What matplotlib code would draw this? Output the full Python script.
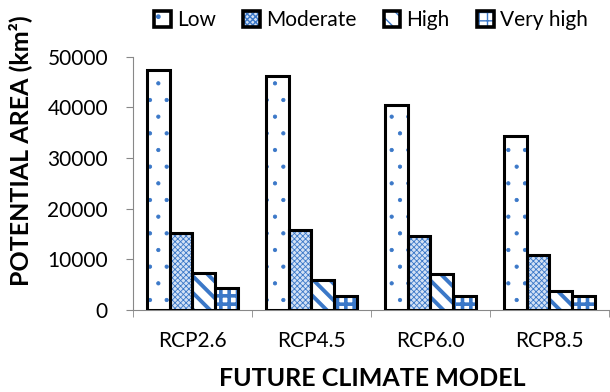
import numpy as np
import matplotlib
matplotlib.use('Agg')
import matplotlib.pyplot as plt
from matplotlib.patches import Patch
from matplotlib.legend_handler import HandlerTuple

## values (km2)
models = ['RCP2.6', 'RCP4.5', 'RCP6.0', 'RCP8.5']
low = [47500, 46200, 40500, 34400]
moderate = [15200, 15800, 14600, 10800]
high = [7400, 6000, 7200, 3700]
very_high = [4300, 2800, 2700, 2700]

plt.rcParams['font.family'] = ['Lato', 'DejaVu Sans']

fig = plt.figure(figsize=(6.1, 3.92), dpi=100)
ax = fig.add_axes([0.218, 0.209, 0.78, 0.646])

x = np.arange(len(models))
w = 0.19
blue = '#3b78c8'
# (values, label, face, hatch, hatch linewidth)
series = [(low, 'Low', 'white', '.', 0.6),
          (moderate, 'Moderate', '#d3e1f5', 'xxxxxx', 0.6),
          (high, 'High', 'white', '\\\\', 2.8),
          (very_high, 'Very high', 'white', '++', 2.6)]

handles = []
labels = []
for i, (vals, name, fc, hat, hlw) in enumerate(series):
    xs = x + (i - 1.5) * w
    with plt.rc_context({'hatch.linewidth': hlw}):
        ax.bar(xs, vals, w, facecolor=fc, edgecolor=blue, linewidth=0,
               hatch=hat, zorder=3)
        fill = Patch(facecolor=fc, edgecolor=blue, linewidth=0, hatch=hat)
    ax.bar(xs, vals, w, facecolor='none', edgecolor='black', linewidth=2.2,
           zorder=4)
    edge = Patch(facecolor='none', edgecolor='black', linewidth=2.6)
    handles.append((fill, edge))
    labels.append(name)

ax.set_xlim(-0.5, 3.5)
ax.set_ylim(0, 50000)
ax.set_yticks(range(0, 50001, 10000))
ax.set_xticks(x)
ax.set_xticklabels(models)
ax.set_xticks(np.arange(-0.5, 4, 1), minor=True)
ax.tick_params(axis='x', which='major', length=0, pad=15, labelsize=15)
ax.tick_params(axis='x', which='minor', length=5, color='#888888')
ax.tick_params(axis='y', length=5, color='#888888', labelsize=15, pad=13)

for s in ['top', 'right']:
    ax.spines[s].set_visible(False)
ax.spines['left'].set_color('#888888')
ax.spines['bottom'].set_color('#888888')

fig.text(20 / 610, 1 - 151 / 392, 'POTENTIAL AREA (km²)', rotation=90,
         ha='center', va='center', fontsize=18, fontweight='bold')
fig.text(372 / 610, 1 - 378 / 392, 'FUTURE CLIMATE MODEL',
         ha='center', va='center', fontsize=18, fontweight='bold')

fig.legend(handles, labels, handler_map={tuple: HandlerTuple(ndivide=1, pad=0)},
           loc='center', bbox_to_anchor=(371 / 610, 1 - 20 / 392), ncol=4, frameon=False,
           fontsize=15, handlelength=0.8, handleheight=0.8, handletextpad=0.3,
           columnspacing=1.3, borderpad=0)

plt.savefig('out.png', dpi=100)
